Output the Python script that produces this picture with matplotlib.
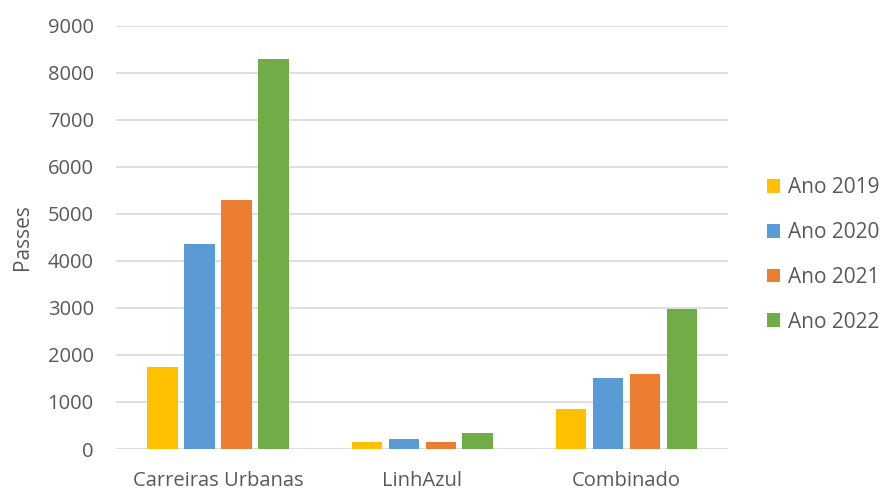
import matplotlib
matplotlib.use("Agg")
import matplotlib.pyplot as plt
import numpy as np

categories = ["Carreiras Urbanas", "LinhAzul", "Combinado"]
series_names = ["Ano 2019", "Ano 2020", "Ano 2021", "Ano 2022"]
ano_2019 = [1750, 150, 860]
ano_2020 = [4350, 210, 1500]
ano_2021 = [5300, 150, 1600]
ano_2022 = [8280, 350, 2980]
colors = ["#FFC000", "#5B9BD5", "#ED7D31", "#70AD47"]
yticks = [0, 1000, 2000, 3000, 4000, 5000, 6000, 7000, 8000, 9000]

plt.rcParams['font.family'] = ['Open Sans', 'DejaVu Sans']
text_color = "#595959"

fig = plt.figure(figsize=(8.85, 4.91), dpi=100)
ax = fig.add_axes([0.131, 0.0855, 0.692, 0.8625])

x = np.arange(len(categories))
step = 0.181
width = 0.148
all_series = [ano_2019, ano_2020, ano_2021, ano_2022]
handles = []
for i, (vals, name, c) in enumerate(zip(all_series, series_names, colors)):
    h = ax.bar(x + (i - 1.5) * step, vals, width, color=c, label=name, zorder=3)
    handles.append(h)

ax.set_xlim(-0.5, 2.5)
ax.set_ylim(0, 9000)
ax.set_yticks(yticks)
ax.set_yticklabels([str(v) for v in yticks])
ax.set_xticks(x)
ax.set_xticklabels(categories)
ax.tick_params(axis='both', length=0, colors=text_color, labelsize=14.5)
ax.tick_params(axis='y', pad=16)
ax.tick_params(axis='x', pad=15.5)
ax.grid(axis='y', color="#D9D9D9", linewidth=1.2, zorder=0)
for s in ["top", "right", "left", "bottom"]:
    ax.spines[s].set_visible(False)

ax.set_ylabel("Passes", color=text_color, fontsize=15)
ax.yaxis.set_label_coords(-0.136, 0.5)

fig.legend(handles=handles, labels=series_names, loc="upper left",
           bbox_to_anchor=(0.845, 0.677), frameon=False, fontsize=15,
           labelcolor=text_color, handlelength=0.65, handleheight=0.65,
           handletextpad=0.4, labelspacing=1.14)

fig.savefig("out.png", dpi=100, facecolor="white")
